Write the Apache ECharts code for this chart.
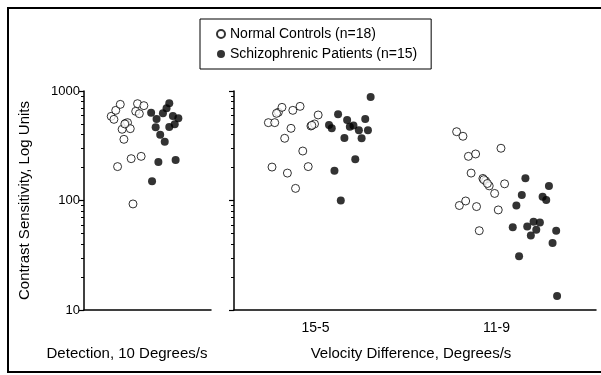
<!DOCTYPE html>
<html>
<head>
<meta charset="utf-8">
<script src="https://cdn.jsdelivr.net/npm/echarts@6/dist/echarts.min.js"></script>
<style>
html,body{margin:0;padding:0;background:#fff;}
#chart{width:601px;height:375px;}
</style>
</head>
<body>
<div id="chart"></div>
<script>
// ---- Data ----
const seriesNames = ['Normal Controls (n=18)', 'Schizophrenic Patients (n=15)'];
const velocityCategories = ['15-5', '11-9'];
const yTickLabels = [10, 100, 1000];
const yMinorTicks = [20, 30, 40, 50, 60, 70, 80, 90, 200, 300, 400, 500, 600, 700, 800, 900];

// Detection panel: horizontal jitter position and contrast sensitivity
const detectionControlsX = [0.30, 0.33, 0.35, 0.40, 0.42, 0.46, 0.48, 0.51, 0.44, 0.37, 0.52, 0.63, 0.54, 0.59, 0.57, 0.61, 0.66, 0.45];
const detectionControlsY = [587, 551, 666, 755, 447, 507, 514, 453, 362, 204, 241, 253, 93, 766, 652, 621, 735, 500];
const detectionPatientsX = [0.74, 0.80, 0.79, 0.84, 0.89, 0.87, 0.91, 0.94, 0.98, 1.04, 0.94, 1.00, 0.82, 1.01, 0.75];
const detectionPatientsY = [634, 555, 466, 399, 344, 625, 695, 771, 591, 563, 469, 496, 225, 234, 150];

// Velocity difference 15-5: jitter offset from category centre and sensitivity
const v155ControlsOff = [-0.52, -0.45, -0.41, -0.37, -0.25, -0.17, -0.27, -0.34, -0.48, -0.31, -0.22, -0.14, -0.08, -0.05, -0.01, 0.03, -0.43, -0.04];
const v155ControlsY = [514, 514, 639, 709, 666, 724, 456, 370, 202, 178, 129, 283, 204, 479, 500, 604, 625, 486];
const v155PatientsOff = [0.15, 0.18, 0.25, 0.35, 0.38, 0.42, 0.48, 0.55, 0.58, 0.51, 0.32, 0.61, 0.44, 0.21, 0.28];
const v155PatientsY = [489, 456, 612, 543, 472, 483, 437, 555, 437, 370, 372, 882, 238, 187, 100];

// Velocity difference 11-9
const v119ControlsOff = [-0.44, -0.37, -0.31, -0.23, 0.05, -0.28, -0.15, -0.12, -0.08, 0.09, -0.02, -0.41, -0.34, -0.22, 0.02, -0.19, -0.14, -0.10];
const v119ControlsY = [425, 386, 253, 266, 300, 178, 159, 151, 136, 142, 116, 90, 99, 88, 82, 53, 155, 143];
const v119PatientsOff = [0.22, 0.28, 0.32, 0.18, 0.25, 0.34, 0.38, 0.41, 0.44, 0.48, 0.51, 0.55, 0.58, 0.66, 0.62, 0.67];
const v119PatientsY = [90, 112, 160, 57, 31, 58, 48, 64, 54, 63, 108, 101, 136, 53, 41, 13.4];

// ---- Build ----
const CAT_STEP = 2; // category centres on the value axis: 0 and 2
function zip(xs, ys) { return xs.map((x, i) => [x, ys[i]]); }
function catPoints(catIndex, offs, ys) { return offs.map((o, i) => [catIndex * CAT_STEP + o, ys[i]]); }

const FONT = '"Liberation Sans", Arial, sans-serif';
const openStyle = { color: '#fff', borderColor: '#000', borderWidth: 1 };
const filledStyle = { color: '#000', borderColor: '#000', borderWidth: 0 };

function mainY(gridIndex, withName) {
  return {
    type: 'log', logBase: 10, gridIndex: gridIndex, min: 10, max: 1000, position: 'left', offset: 0,
    axisLine: { show: true, onZero: false, lineStyle: { color: '#000', width: 1.5 } },
    axisTick: { show: true, length: 5, lineStyle: { color: '#000', width: 1.2 } },
    axisLabel: { show: withName, color: '#000', fontSize: 13, fontFamily: FONT, margin: 4,
                 customValues: yTickLabels, formatter: v => String(Math.round(v)) },
    splitLine: { show: false },
    name: withName ? 'Contrast Sensitivity, Log Units' : '',
    nameLocation: 'middle', nameGap: 52,
    nameTextStyle: { color: '#000', fontSize: 15, fontFamily: FONT }
  };
}
function minorY(gridIndex) {
  return {
    type: 'log', logBase: 10, gridIndex: gridIndex, min: 10, max: 1000, position: 'left', offset: 0,
    axisLine: { show: false, onZero: false },
    axisTick: { show: true, length: 3, customValues: yMinorTicks, lineStyle: { color: '#000', width: 1 } },
    axisLabel: { show: false },
    splitLine: { show: false }
  };
}

const chart = echarts.init(document.getElementById('chart'), null, { renderer: 'canvas' });
chart.setOption({
  backgroundColor: '#fff',
  animation: false,
  textStyle: { fontFamily: FONT },
  legend: {
    data: seriesNames,
    orient: 'vertical', left: 200, top: 19,
    borderColor: '#000', borderWidth: 1,
    padding: [8, 14, 8, 16],
    itemWidth: 8, itemHeight: 8, itemGap: 6,
    textStyle: { color: '#000', fontSize: 14, fontFamily: FONT }
  },
  grid: [
    { left: 84, right: 390, top: 91, bottom: 65 },
    { left: 234, right: 5, top: 91, bottom: 65 }
  ],
  xAxis: [
    { type: 'value', gridIndex: 0, min: 0, max: 1.4, position: 'bottom',
      axisLine: { show: true, onZero: false, lineStyle: { color: '#000', width: 1.5 } },
      axisTick: { show: false }, axisLabel: { show: false }, splitLine: { show: false } },
    { type: 'value', gridIndex: 1, min: -0.9, max: 3.1, position: 'bottom',
      axisLine: { show: true, onZero: false, lineStyle: { color: '#000', width: 1.5 } },
      axisTick: { show: false },
      axisLabel: { show: true, color: '#000', fontSize: 14, fontFamily: FONT, margin: 11,
        customValues: velocityCategories.map((c, i) => i * CAT_STEP),
        formatter: v => velocityCategories[Math.round(v / CAT_STEP)] },
      splitLine: { show: false } }
  ],
  yAxis: [mainY(0, true), minorY(0), mainY(1, false), minorY(1)],
  series: [
    { name: seriesNames[0], type: 'scatter', xAxisIndex: 0, yAxisIndex: 0, symbol: 'circle', symbolSize: 8,
      itemStyle: openStyle, data: zip(detectionControlsX, detectionControlsY) },
    { name: seriesNames[1], type: 'scatter', xAxisIndex: 0, yAxisIndex: 0, symbol: 'circle', symbolSize: 8,
      itemStyle: filledStyle, data: zip(detectionPatientsX, detectionPatientsY) },
    { name: seriesNames[0], type: 'scatter', xAxisIndex: 1, yAxisIndex: 2, symbol: 'circle', symbolSize: 8,
      itemStyle: openStyle,
      data: catPoints(0, v155ControlsOff, v155ControlsY).concat(catPoints(1, v119ControlsOff, v119ControlsY)) },
    { name: seriesNames[1], type: 'scatter', xAxisIndex: 1, yAxisIndex: 2, symbol: 'circle', symbolSize: 8,
      itemStyle: filledStyle,
      data: catPoints(0, v155PatientsOff, v155PatientsY).concat(catPoints(1, v119PatientsOff, v119PatientsY)) }
  ],
  graphic: [
    { type: 'rect', silent: true, z: -1,
      shape: { x: 8, y: 8, width: 600, height: 364 },
      style: { fill: 'none', stroke: '#000', lineWidth: 2 } },
    { type: 'text', x: 127, y: 354,
      style: { text: 'Detection, 10 Degrees/s', fill: '#000', font: '15px ' + FONT, textAlign: 'center', textVerticalAlign: 'middle' } },
    { type: 'text', x: 411, y: 354,
      style: { text: 'Velocity Difference, Degrees/s', fill: '#000', font: '15px ' + FONT, textAlign: 'center', textVerticalAlign: 'middle' } }
  ]
});
</script>
</body>
</html>
